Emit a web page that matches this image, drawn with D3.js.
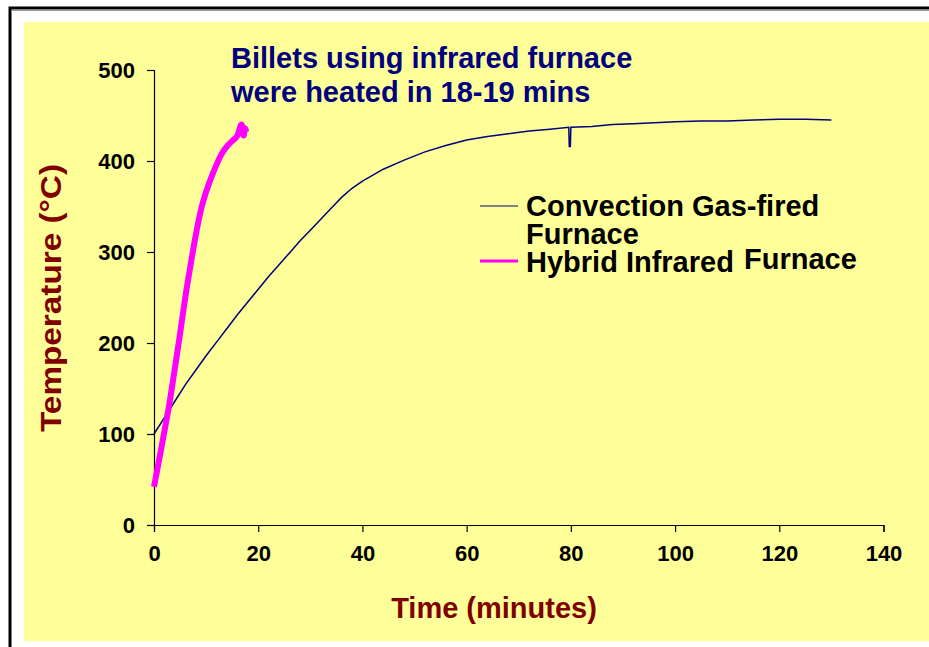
<!DOCTYPE html>
<html><head><meta charset="utf-8">
<script src="https://cdn.jsdelivr.net/npm/d3@7"></script>
<style>body{margin:0;background:#fff}svg{display:block}text{font-family:"Liberation Sans",Arial,sans-serif;font-weight:bold}</style>
</head><body><svg id="c" width="929" height="647"></svg>
<script>
const xTicks = [0,20,40,60,80,100,120,140];
const yTicks = [0,100,200,300,400,500];
const convT = [0,2,4,6,8,10,12,14,16,18,20,22,24,26,28,30,32,34,36,38,40,44,48,52,56,60,64,68,72,76,79.6,79.7,79.9,80,84,88,92,96,100,105,110,115,120,125,130];
const convV = [100,118,136,154,170,186,201,216,231,245,259,273,286,299,312,324,336,348,360,370,378,391,401,410,417,423,427,430,433,435,437,416,416,437,438,440,441,442,443,444,444,445,446,446,445];
const irT = [0,1,2,3,4,5,6,7,8,9,10,11,12,13,14,15,16,16.8,17.2,17.5,17.7];
const irV = [42,72,103,135,172,210,250,285,318,346,366,382,396,408,416,422,428,440,428,436,432];
const titleLines = ["Billets using infrared furnace","were heated in 18-19 mins"];

const svg = d3.select("#c");
svg.append("rect").attr("x",10).attr("y",8).attr("width",940).attr("height",660).attr("fill","#fff").attr("stroke","#000").attr("stroke-width",3);
svg.append("line").attr("x1",12).attr("x2",929).attr("y1",10.5).attr("y2",10.5).attr("stroke","#999").attr("stroke-width",1);
svg.append("rect").attr("x",24).attr("y",22).attr("width",905).attr("height",619).attr("fill","#FFFF99");

const x = d3.scaleLinear().domain([0,140]).range([154,883.5]);
const y = d3.scaleLinear().domain([0,500]).range([525,70]);

const xa = svg.append("g").attr("transform","translate(0,525)").call(d3.axisBottom(x).tickValues(xTicks).tickSize(7).tickPadding(13));
const ya = svg.append("g").attr("transform","translate(154,0)").call(d3.axisLeft(y).tickValues(yTicks).tickSize(7).tickPadding(12));
[xa,ya].forEach(g=>{g.selectAll("path,line").attr("stroke","#000").attr("stroke-width",1.2);
  g.selectAll("text").attr("fill","#000").style("font-size","22px").style("font-family","Liberation Sans, Arial").style("font-weight","bold");});

const line = d3.line().x(d=>x(d[0])).y(d=>y(d[1]));
const smooth = d3.line().x(d=>x(d[0])).y(d=>y(d[1])).curve(d3.curveMonotoneX);
svg.append("path").datum(convT.map((t,i)=>[t,convV[i]])).attr("d",line).attr("fill","none").attr("stroke","#000080").attr("stroke-width",1.5);
svg.append("path").datum(irT.map((t,i)=>[t,irV[i]])).attr("d",smooth).attr("fill","none").attr("stroke","#FF00FF").attr("stroke-width",6).attr("stroke-linejoin","round");

svg.selectAll(".tt").data(titleLines).enter().append("text").attr("x",231).attr("y",(d,i)=>68+i*34).attr("fill","#000080").style("font-size","29px").text(d=>d);

// legend
svg.append("line").attr("x1",480).attr("x2",518).attr("y1",206).attr("y2",206).attr("stroke","#000080").attr("stroke-width",1);
svg.append("line").attr("x1",480).attr("x2",518).attr("y1",261).attr("y2",261).attr("stroke","#FF00FF").attr("stroke-width",3);
svg.append("text").attr("x",526).attr("y",216).style("font-size","29px").attr("fill","#000").text("Convection Gas-fired");
svg.append("text").attr("x",526).attr("y",244).style("font-size","29px").attr("fill","#000").text("Furnace");
svg.append("text").attr("x",526).attr("y",272).style("font-size","29px").attr("fill","#000").text("Hybrid Infrared");
svg.append("text").attr("x",744).attr("y",269).style("font-size","29px").attr("fill","#000").text("Furnace");

svg.append("text").attr("x",494).attr("y",618).attr("text-anchor","middle").attr("fill","#800000").style("font-size","29px").text("Time (minutes)");
svg.append("text").attr("transform","translate(61,298) rotate(-90)").attr("text-anchor","middle").attr("fill","#800000").style("font-size","29px")
  .attr("textLength",268).attr("lengthAdjust","spacingAndGlyphs").text("Temperature (°C)");
</script></body></html>
